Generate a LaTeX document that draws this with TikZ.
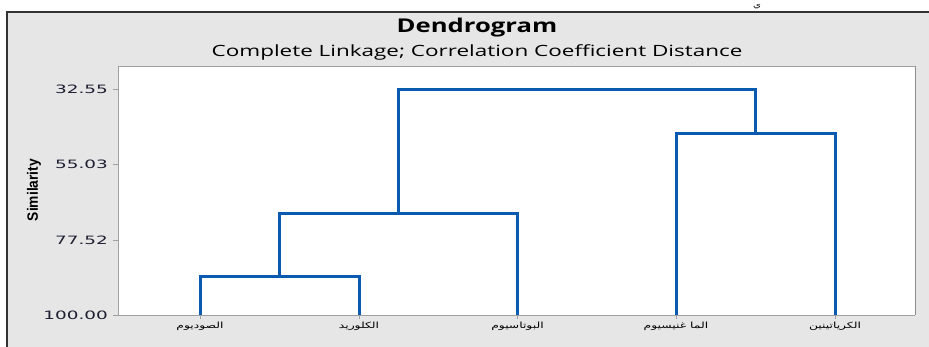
\documentclass[tikz,border=0pt]{standalone}
\usepackage{fontspec}
\usetikzlibrary{positioning}
\TeXXeTstate=1
\newfontfamily\titlefont[FakeStretch=1.35]{Open Sans}
\newfontfamily\subtitlefont[FakeStretch=1.45]{Open Sans}
\newfontfamily\tickfont[FakeStretch=1.6]{DejaVu Sans}
\newfontfamily\axisfont[FakeStretch=0.92]{Liberation Sans}
\newfontfamily\arabicfont[Script=Arabic,FakeStretch=1.45]{DejaVu Sans}

\definecolor{panelgray}{RGB}{230,230,230}
\definecolor{framegray}{RGB}{160,160,160}
\definecolor{linkblue}{RGB}{10,90,175}
\definecolor{ticktext}{RGB}{30,30,50}

\tikzset{
  link/.style={draw=linkblue, line width=3pt, line join=miter},
  tickmark/.style={draw=framegray, line width=0.8pt},
  ticklabel/.style={anchor=east, inner sep=0pt, text=ticktext, font=\tickfont\fontsize{11.5}{11.5}\selectfont},
  leaflabel/.style={anchor=north, inner sep=0pt, font=\arabicfont\fontsize{8.5}{9}\selectfont},
}

\begin{document}
\begin{tikzpicture}[x=1pt, y=-1pt]
  \useasboundingbox (0,0) rectangle (929,347);

  % panel and plot area
  \fill[panelgray] (7,12) rectangle (940,360);
  \draw[black!80, line width=1.6pt] (7,360) -- (7,12) -- (940,12);
  \fill[white] (118,66) rectangle (915,315);
  \draw[framegray, line width=0.8pt] (118,315) -- (118,66) -- (915,66);
  \draw[framegray, line width=0.8pt] (118,315) -- (915,315);
  \draw[black!45, line width=1.4pt] (915.5,66) -- (915.5,315.5);

  % titles
  \node[font=\titlefont\bfseries\fontsize{19}{20}\selectfont] (title) at (477,28) {Dendrogram};
  \node[font=\subtitlefont\fontsize{15.5}{16}\selectfont, below=0pt of title] (subtitle) {Complete Linkage; Correlation Coefficient Distance};

  % similarity axis
  \node[rotate=90, font=\axisfont\bfseries\fontsize{15}{15}\selectfont] (ylabel) at (34,190) {Similarity};
  \foreach \yv/\lab in {89/32.55, 164.5/55.03, 240/77.52, 315/100.00} {
    \draw[tickmark] (113,\yv) -- (118,\yv);
    \node[ticklabel] at (108,\yv) {\lab};
  }

  % leaves
  \coordinate (sod) at (200,315);
  \coordinate (chl) at (359,315);
  \coordinate (pot) at (517.5,315);
  \coordinate (mag) at (676,315);
  \coordinate (cre) at (835,315);
  \foreach \n in {sod,chl,pot,mag,cre} {
    \draw[tickmark] (\n) -- ++(0,4);
  }
  \node[leaflabel] (sodlab) at ([yshift=-7pt]sod) {\beginR الصوديوم\endR};
  \node[leaflabel] (chllab) at ([yshift=-7pt]chl) {\beginR الكلوريد\endR};
  \node[leaflabel] (potlab) at ([yshift=-7pt]pot) {\beginR البوتاسيوم\endR};
  \node[leaflabel] (maglab) at ([yshift=-7pt]mag) {\beginR الما غنيسيوم\endR};
  \node[leaflabel] (crelab) at ([yshift=-7pt]cre) {\beginR الكرياتينين\endR};

  % merge points
  \coordinate (m1) at (279.5,276.5);
  \coordinate (m2) at (398,214);
  \coordinate (m3) at (755.5,134);
  \coordinate (m4) at (577,89.5);

  \draw[link] (sod) |- (m1) -| (chl);
  \draw[link] (m1) |- (m2) -| (pot);
  \draw[link] (mag) |- (m3) -| (cre);
  \draw[link] (m2) |- (m4) -| (m3);

  % stray character above the panel
  \node[font=\arabicfont\fontsize{7}{7}\selectfont, inner sep=0pt, anchor=south] (topchar) at (757,9) {\beginR ي\endR};
\end{tikzpicture}
\end{document}
